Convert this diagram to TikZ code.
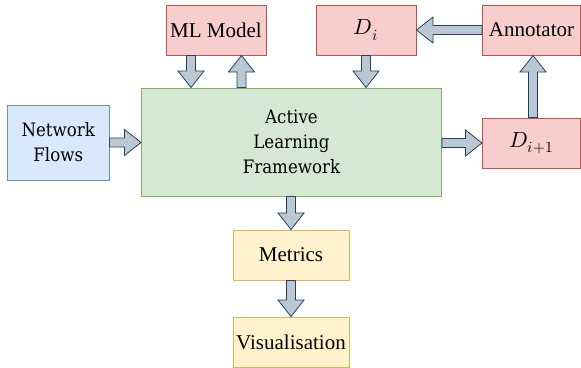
\documentclass[tikz,border=0pt]{standalone}
\usepackage{fontspec}
\usepackage{unicode-math}
\setmainfont{Liberation Serif}
\setmathfont{Latin Modern Math}
\newfontfamily\nserif{DejaVu Serif Condensed}
\usetikzlibrary{calc}
\definecolor{redf}{HTML}{F8CECC}\definecolor{redd}{HTML}{B85450}
\definecolor{bluef}{HTML}{DAE8FC}\definecolor{blued}{HTML}{6C8EBF}
\definecolor{greenf}{HTML}{D5E8D4}\definecolor{greend}{HTML}{82B366}
\definecolor{yelf}{HTML}{FFF2CC}\definecolor{yeld}{HTML}{D6B656}
\definecolor{arrf}{HTML}{BAC8D3}\definecolor{arrd}{HTML}{23445D}
\newcommand{\barr}[2]{%
  \path (#1) coordinate (ba-s) (#2) coordinate (ba-e);
  \path ($(ba-e)!16.5pt!(ba-s)$) coordinate (ba-h);
  \draw[barrow] ($(ba-s)!4.5pt!90:(ba-e)$) -- ($(ba-h)!4.5pt!-90:(ba-s)$) -- ($(ba-h)!13pt!-90:(ba-s)$) -- (ba-e) -- ($(ba-h)!13pt!90:(ba-s)$) -- ($(ba-h)!4.5pt!90:(ba-s)$) -- ($(ba-s)!4.5pt!-90:(ba-e)$) -- cycle;
}
\begin{document}
\begin{tikzpicture}[x=1pt,y=-1pt,
  box/.style={draw, line width=1pt, inner sep=0pt, align=center, font=\fontsize{21}{25}\selectfont},
  redbox/.style={box, fill=redf, draw=redd},
  mathbox/.style={redbox, font=\fontsize{22}{25}\selectfont},
  bluebox/.style={box, fill=bluef, draw=blued, font=\nserif\fontsize{18.5}{25}\selectfont},
  greenbox/.style={box, fill=greenf, draw=greend, font=\nserif\fontsize{18.5}{25}\selectfont},
  yelbox/.style={box, fill=yelf, draw=yeld},
  barrow/.style={fill=arrf, draw=arrd, line width=0.8pt, line join=miter}]
\useasboundingbox (0,0) rectangle (581,367);
\node[redbox, minimum width=100pt, minimum height=50pt] (ml) at (216,30) {ML Model};
\node[mathbox, minimum width=100pt, minimum height=50pt] (di) at (366,30) {$D_i$};
\node[redbox, minimum width=98pt, minimum height=50pt] (ann) at (531.5,30) {Annotator};
\node[bluebox, minimum width=101.5pt, minimum height=75pt] (nf) at (58.25,142.5) {Network\\Flows};
\node[greenbox, minimum width=300pt, minimum height=108pt] (alf) at (291.5,142) {Active\\Learning\\Framework};
\node[mathbox, minimum width=98pt, minimum height=50pt] (dip) at (531.5,143) {$D_{i+1}$};
\node[yelbox, minimum width=116pt, minimum height=50pt] (met) at (291,255) {Metrics};
\node[yelbox, minimum width=116pt, minimum height=50pt] (vis) at (291,342) {Visualisation};
% connectors
\coordinate (a1s) at ($(ml.south)+(-25,0)$);
\coordinate (a1e) at (a1s |- alf.north);
\barr{a1s}{a1e}
\coordinate (a2e) at ($(ml.south)+(25.5,0)$);
\coordinate (a2s) at (a2e |- alf.north);
\barr{a2s}{a2e}
\coordinate (a3e) at (di.south |- alf.north);
\barr{di.south}{a3e}
\barr{ann.west}{di.east}
\coordinate (a5s) at ($(dip.north)+(1.5,0)$);
\coordinate (a5e) at (a5s |- ann.south);
\barr{a5s}{a5e}
\coordinate (a6s) at (alf.east |- dip.west);
\barr{a6s}{dip.west}
\coordinate (a7e) at (alf.west |- nf.east);
\barr{nf.east}{a7e}
\coordinate (a8s) at (met.north |- alf.south);
\barr{a8s}{met.north}
\barr{met.south}{vis.north}
\end{tikzpicture}
\end{document}
